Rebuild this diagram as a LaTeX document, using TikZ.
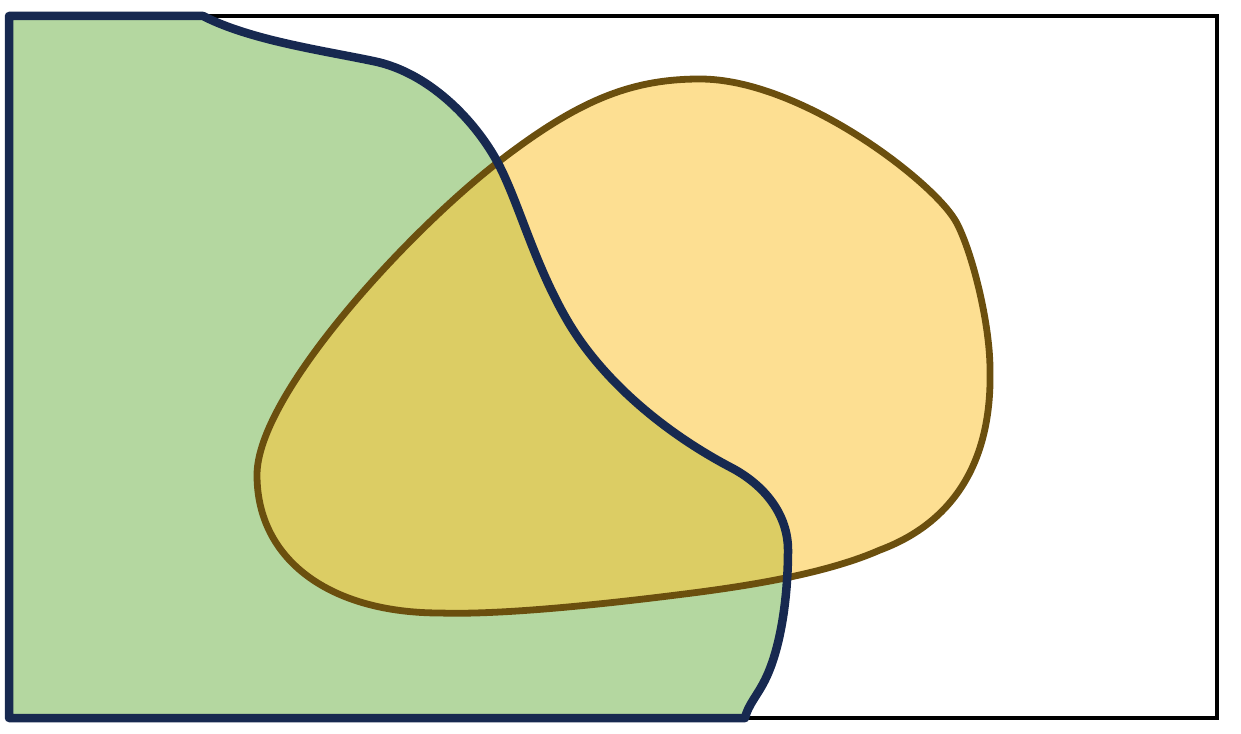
\documentclass[tikz,border=0pt]{standalone}
\usepackage{tikz}
\usepackage{xcolor}
\definecolor{regiongreen}{RGB}{180, 215, 160}
\definecolor{regionnavy}{RGB}{23, 41, 80}
\definecolor{blobyellow}{RGB}{253, 223, 146}
\definecolor{blobbrown}{RGB}{107, 79, 14}
\definecolor{overlapolive}{RGB}{220, 205, 100}
\newcommand{\blobpath}{(497,163) .. controls (577,101) and (630,79) .. (700,79)
    .. controls (800,79) and (931,180) .. (955,220)
    .. controls (970,245) and (990,320) .. (990,370)
    .. controls (992,460) and (955,522) .. (880,550)
    .. controls (830,572) and (760,584) .. (700,592)
    .. controls (600,605) and (500,615) .. (440,613)
    .. controls (330,613) and (257,560) .. (257,475)
    .. controls (257,395) and (407,233) .. (497,163) -- cycle}
\newcommand{\regionpath}{(9,718) -- (9,16) -- (203,16)
    .. controls (250,40) and (320,50) .. (373,61)
    .. controls (433,73) and (480,127) .. (500,167)
    .. controls (520,207) and (535,265) .. (567,320)
    .. controls (600,377) and (660,430) .. (730,467)
    .. controls (765,485) and (788,515) .. (788,550)
    .. controls (788,600) and (780,650) .. (765,680)
    .. controls (757,696) and (748,705) .. (745,718) -- cycle}

\begin{document}
\begin{tikzpicture}[x=0.1mm, y=-0.1mm]
    \useasboundingbox (0,0) rectangle (1241,733);
    \draw[black, line width=0.4mm] (8,16) rectangle (1217,718);
    \fill[regiongreen] \regionpath;
    \fill[blobyellow] \blobpath;
    \begin{scope}
      \clip \regionpath;
      \fill[overlapolive] \blobpath;
    \end{scope}
    \draw[blobbrown, line width=0.68mm, line join=round] \blobpath;
    \draw[regionnavy, line width=0.85mm, line join=round] \regionpath;
  \end{tikzpicture}
\end{document}
